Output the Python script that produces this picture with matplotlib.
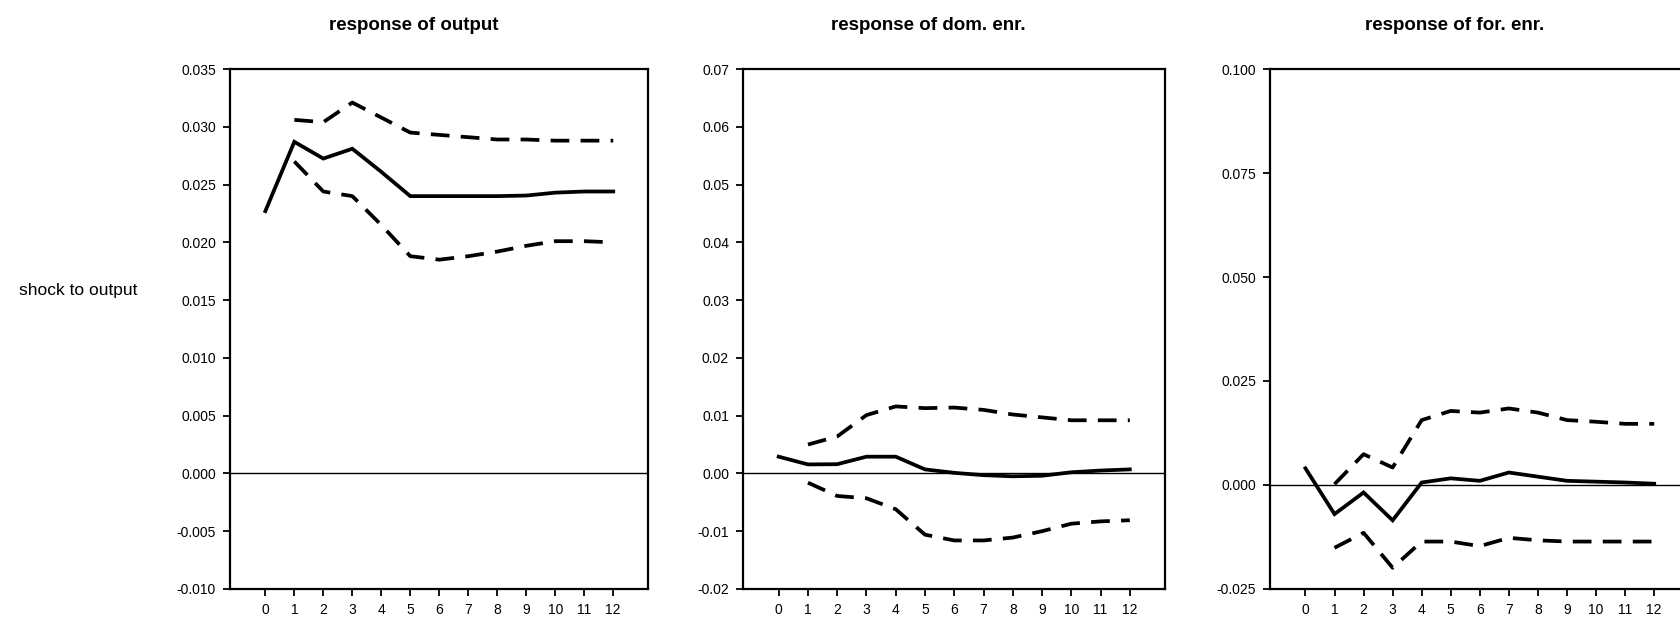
import matplotlib
matplotlib.use("Agg")
import matplotlib.pyplot as plt
import numpy as np

plt.rcParams['font.family'] = ['Liberation Sans', 'DejaVu Sans']
plt.rcParams['font.size'] = 10

horizon = np.arange(13)

# response of output
out_mid = [0.0227, 0.0287, 0.02725, 0.0281, 0.0261, 0.0240, 0.0240, 0.0240,
           0.0240, 0.02405, 0.0243, 0.0244, 0.0244]
out_hi = [0.0306, 0.0304, 0.0321, 0.0308, 0.0295, 0.0293, 0.0291, 0.0289,
          0.0289, 0.0288, 0.0288, 0.0288]
out_lo = [0.0270, 0.0244, 0.0240, 0.0215, 0.0188, 0.0185, 0.0188, 0.0192,
          0.0197, 0.0201, 0.0201, 0.0200]

# response of dom. enr.
dom_mid = [0.0029, 0.00156, 0.0016, 0.0029, 0.0029, 0.0007, 0.0001, -0.0003,
           -0.0005, -0.0004, 0.0002, 0.0005, 0.0007]
dom_hi = [0.0050, 0.0064, 0.0101, 0.0116, 0.0113, 0.0114, 0.0110, 0.0102,
          0.0097, 0.0092, 0.0092, 0.0092]
dom_lo = [-0.0016, -0.0039, -0.0043, -0.0062, -0.0106, -0.0116, -0.0116,
          -0.0111, -0.0100, -0.0087, -0.0083, -0.0081]

# response of for. enr.
for_mid = [0.0040, -0.0070, -0.0018, -0.0085, 0.0006, 0.0016, 0.0010, 0.0030,
           0.0020, 0.0010, 0.0008, 0.0006, 0.0003]
for_hi = [0.0002, 0.0074, 0.0042, 0.0156, 0.0178, 0.0174, 0.0184, 0.0174,
          0.0156, 0.0152, 0.0147, 0.0147]
for_lo = [-0.0151, -0.0115, -0.0199, -0.0136, -0.0136, -0.0147, -0.0127,
          -0.0133, -0.0136, -0.0136, -0.0136, -0.0136]

titles = ["response of output", "response of dom. enr.", "response of for. enr."]
yticks = [np.arange(-0.010, 0.0351, 0.005),
          np.arange(-0.02, 0.0701, 0.01),
          np.arange(-0.025, 0.1001, 0.025)]
ylabels = [["-0.010", "-0.005", "0.000", "0.005", "0.010", "0.015", "0.020",
            "0.025", "0.030", "0.035"],
           ["-0.02", "-0.01", "0.00", "0.01", "0.02", "0.03", "0.04", "0.05",
            "0.06", "0.07"],
           ["-0.025", "0.000", "0.025", "0.050", "0.075", "0.100"]]
ylims = [(-0.010, 0.035), (-0.02, 0.07), (-0.025, 0.100)]
series = [(out_mid, out_hi, out_lo), (dom_mid, dom_hi, dom_lo),
          (for_mid, for_hi, for_lo)]
lefts = [0.1368, 0.442, 0.7555]
widths = [0.2487, 0.251, 0.2493]

fig = plt.figure(figsize=(16.81, 6.19), dpi=100)

for i in range(3):
    ax = fig.add_axes([lefts[i], 0.0485, widths[i], 0.840])
    mid, hi, lo = series[i]
    ax.axhline(0, color='black', lw=1.0)
    ax.plot(horizon, mid, color='black', lw=2.7, solid_joinstyle='miter')
    ax.plot(horizon[1:], hi, color='black', lw=2.7, dashes=(5, 3))
    ax.plot(horizon[1:], lo, color='black', lw=2.7, dashes=(5, 3))
    ax.set_xlim(-1.22, 13.2)
    ax.set_ylim(*ylims[i])
    ax.set_xticks(horizon)
    ax.set_yticks(yticks[i])
    ax.set_yticklabels(ylabels[i])
    ax.tick_params(axis='both', direction='out', length=5, width=1.3,
                   labelsize=10, pad=5)
    for s in ax.spines.values():
        s.set_linewidth(1.6)
    ax.set_title(titles[i], x=0.44, y=1.0, pad=28, fontsize=13.5,
                 fontweight='bold')

fig.text(0.0113, 0.531, "shock to output", fontsize=12.5,
         va='center', ha='left')

plt.savefig("out.png", dpi=100)
plt.close('all')
